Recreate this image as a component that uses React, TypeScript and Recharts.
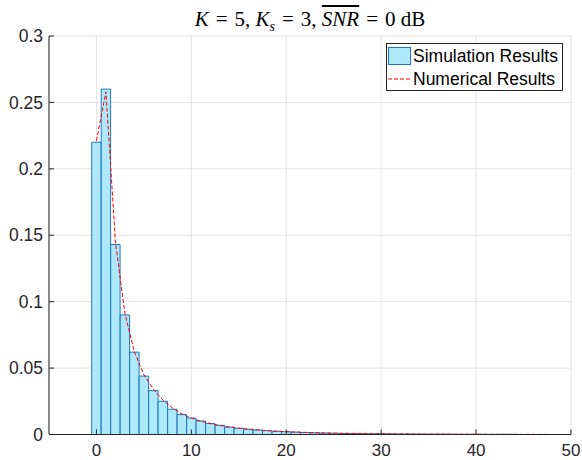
import { ComposedChart, Bar, Line, XAxis, YAxis, CartesianGrid } from 'recharts';

// bin centres of the histogram
const bins = [
  0, 1, 2, 3, 4, 5, 6, 7, 8, 9, 10, 11, 12, 13, 14, 15, 16, 17, 18, 19, 20,
  21, 22, 23, 24, 25, 26, 27, 28, 29, 30, 31, 32, 33, 34, 35, 36, 37, 38, 39, 40,
  41, 42, 43, 44, 45, 46, 47, 48, 49, 50,
];

// Simulation Results (bar heights)
const simulation = [
  0.22, 0.26, 0.143, 0.09, 0.062, 0.044, 0.033, 0.025, 0.019, 0.015, 0.0124,
  0.0102, 0.0082, 0.0069, 0.0055, 0.0047, 0.0039, 0.0034, 0.0029, 0.0024, 0.0021,
  0.0018, 0.0015, 0.0013, 0.0011, 0.001, 0.0008, 0.0007, 0.0006, 0.0005, 0.0005,
  0.0004, 0.0003, 0.0003, 0.0003, 0.0002, 0.0002, 0.0002, 0.0001, 0.0001, 0.0001,
  0.0001, 0.0001, 0.0001, 0.0001, 0, 0, 0, 0, 0, 0,
];

// Numerical Results (dashed curve)
const numerical = [
  0.221, 0.258, 0.145, 0.091, 0.062, 0.045, 0.034, 0.026, 0.02, 0.0155, 0.0123,
  0.01, 0.0082, 0.0068, 0.0057, 0.0048, 0.004, 0.0034, 0.0029, 0.0025, 0.0021,
  0.0018, 0.0016, 0.0014, 0.0012, 0.001, 0.0009, 0.0008, 0.0007, 0.0006, 0.0005,
  0.0005, 0.0004, 0.0004, 0.0003, 0.0003, 0.0003, 0.0002, 0.0002, 0.0002, 0.0002,
  0.0001, 0.0001, 0.0001, 0.0001, 0.0001, 0.0001, 0.0001, 0, 0, 0,
];

const xTicks = [0, 10, 20, 30, 40, 50];
const yTicks = [0, 0.05, 0.1, 0.15, 0.2, 0.25, 0.3];

const data = bins.map((x, i) => ({ x, sim: simulation[i], num: numerical[i] }));

const AXIS = '#262626';
const FONT = '"Liberation Sans", Arial, sans-serif';
const MATH = '"Liberation Serif", "Times New Roman", serif';

function Title() {
  const it = { fontStyle: 'italic' as const };
  const eq = <span style={{ margin: '0 7px' }}>=</span>;
  return (
    <div
      style={{
        position: 'absolute',
        left: 49,
        width: 522,
        top: 7,
        textAlign: 'center',
        fontFamily: MATH,
        fontSize: 21,
        lineHeight: '24px',
        color: '#000',
        whiteSpace: 'nowrap',
      }}
    >
      <span style={it}>K</span>{eq}5, <span style={it}>K</span>
      <sub style={{ ...it, fontSize: 14, lineHeight: 0 }}>s</sub>{eq}3,{' '}
      <span style={{ ...it, textDecoration: 'overline' }}>SNR</span>{eq}0 dB
    </div>
  );
}

function LegendBox() {
  return (
    <div
      style={{
        position: 'absolute',
        left: 386,
        top: 43,
        width: 175,
        height: 46,
        border: '1px solid #262626',
        background: '#fff',
        fontFamily: FONT,
        fontSize: 17.5,
        color: '#000',
      }}
    >
      <div
        style={{
          position: 'absolute',
          left: 1,
          top: 3,
          width: 21,
          height: 16,
          background: '#aee8fb',
          border: '1px solid #1f78bd',
        }}
      />
      <span style={{ position: 'absolute', left: 26, top: 1, lineHeight: '22px' }}>Simulation Results</span>
      <svg width={25} height={10} style={{ position: 'absolute', left: 1, top: 30 }}>
        <line x1={0} y1={5} x2={24} y2={5} stroke="#ff0000" strokeDasharray="4 2" />
      </svg>
      <span style={{ position: 'absolute', left: 26, top: 24, lineHeight: '22px' }}>Numerical Results</span>
    </div>
  );
}

export default function App() {
  return (
    <div style={{ position: 'absolute', left: 0, top: 0, width: 582, height: 460, background: '#fff' }}>
      <ComposedChart
        width={582}
        height={460}
        data={data}
        margin={{ top: 36, right: 11, bottom: 1.5, left: 5 }}
      >
        <CartesianGrid stroke="#e3e3e3" strokeWidth={1} />
        <XAxis
          dataKey="x"
          type="number"
          domain={[-5, 50]}
          ticks={xTicks}
          allowDataOverflow
          height={24}
          stroke={AXIS}
          tickSize={-5}
          tickMargin={14}
          tick={{ fill: AXIS, fontSize: 17, fontFamily: FONT }}
        />
        <YAxis
          type="number"
          domain={[0, 0.3]}
          ticks={yTicks}
          allowDataOverflow
          width={44}
          stroke={AXIS}
          tickSize={-5}
          tickMargin={11}
          tick={{ fill: AXIS, fontSize: 17.5, fontFamily: FONT }}
          tickFormatter={(v: number) => String(v)}
        />
        <Bar
          dataKey="sim"
          fill="#aee8fb"
          stroke="#1f78bd"
          strokeWidth={1}
          barSize={9.4}
          isAnimationActive={false}
        />
        <Line
          dataKey="num"
          type="linear"
          stroke="#ff0000"
          strokeWidth={1}
          strokeDasharray="4 2"
          dot={false}
          isAnimationActive={false}
        />
      </ComposedChart>
      <Title />
      <LegendBox />
    </div>
  );
}
